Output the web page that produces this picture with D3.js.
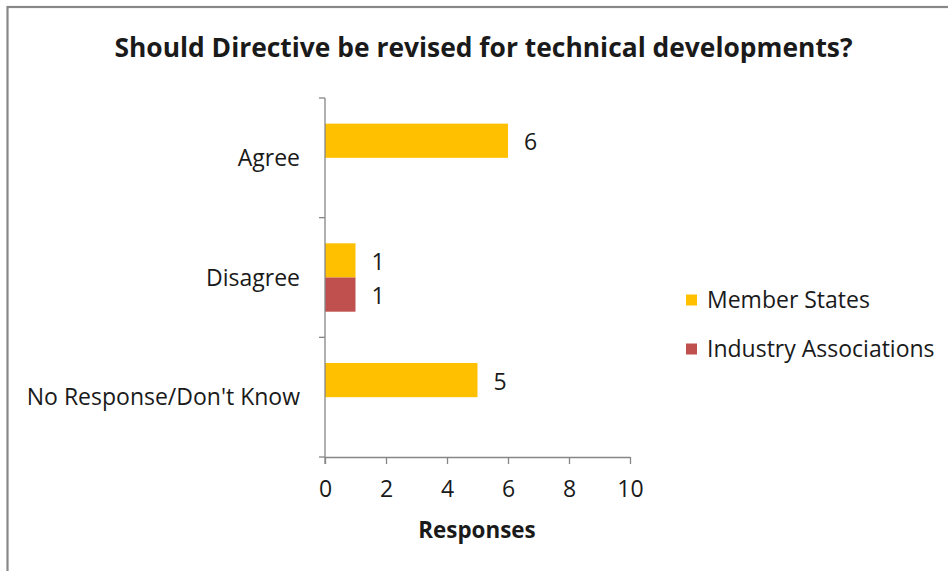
<!DOCTYPE html>
<html>
<head>
<meta charset="utf-8">
<script src="https://cdn.jsdelivr.net/npm/d3@7"></script>
<style>
  html, body { margin: 0; padding: 0; background: #fff; }
  svg { display: block; }
  text { font-family: "Open Sans", Lato, sans-serif; fill: #1a1a1a; }
</style>
</head>
<body>
<svg id="chart" width="948" height="571"></svg>
<script>
// Survey answers, one value per category for each respondent group
const categories = ["Agree", "Disagree", "No Response/Don't Know"];
const seriesNames = ["Member States", "Industry Associations"];
const memberStates = [6, 1, 5];
const industryAssociations = [null, 1, null];
const xTicks = [0, 2, 4, 6, 8, 10];
const seriesColors = ["#FFC000", "#C0504D"];
const titleText = "Should Directive be revised for technical developments?";
const xAxisTitle = "Responses";

const seriesValues = [memberStates, industryAssociations];
const rows = [];
categories.forEach((c, ci) => {
  seriesNames.forEach((s, si) => {
    const v = seriesValues[si][ci];
    if (v !== null && v !== undefined) rows.push({ category: c, series: s, value: v, color: seriesColors[si] });
  });
});

const svg = d3.select("#chart");

// outer chart frame
svg.append("rect")
  .attr("x", 7.5).attr("y", 7)
  .attr("width", 960).attr("height", 600)
  .attr("fill", "none").attr("stroke", "#888").attr("stroke-width", 2.2);

const plot = { left: 325, right: 630, top: 98, bottom: 457 };
const labelSize = 23;

const x = d3.scaleLinear().domain([0, 10]).range([plot.left, plot.right]);
const y = d3.scaleBand().domain(categories).range([plot.top, plot.bottom]).padding(0);
const bw = y.bandwidth();
const gap = bw * 1.5 / 3.5;
const ySub = d3.scaleBand().domain(seriesNames).range([gap / 2, bw - gap / 2]).padding(0);

// bars
svg.append("g").selectAll("rect").data(rows).join("rect")
  .attr("x", x(0))
  .attr("y", d => y(d.category) + ySub(d.series))
  .attr("width", d => x(d.value) - x(0))
  .attr("height", ySub.bandwidth())
  .attr("fill", d => d.color);

// value labels
svg.append("g").selectAll("text").data(rows).join("text")
  .attr("x", d => x(d.value) + 16)
  .attr("y", d => y(d.category) + ySub(d.series) + ySub.bandwidth() / 2 + 1.5)
  .attr("dy", "0.35em")
  .attr("font-size", labelSize)
  .text(d => d.value);

// x axis
const xAxis = svg.append("g")
  .attr("transform", `translate(0,${plot.bottom})`)
  .call(d3.axisBottom(x).tickValues(xTicks).tickSize(7).tickPadding(17).tickSizeOuter(0));
xAxis.select(".domain").attr("stroke", "#868686").attr("stroke-width", 1.3);
xAxis.selectAll(".tick line").attr("stroke", "#868686").attr("stroke-width", 1.3);
xAxis.selectAll(".tick text").attr("font-size", labelSize).attr("font-family", null).attr("fill", "#1a1a1a");

// y axis: ticks sit on category boundaries, labels at band centres
const yAxisG = svg.append("g").attr("transform", `translate(${plot.left},0)`);
yAxisG.append("line")
  .attr("x1", 0).attr("x2", 0)
  .attr("y1", plot.top).attr("y2", plot.bottom + 7)
  .attr("stroke", "#868686").attr("stroke-width", 1.3);
const boundaries = categories.map(c => y(c)).concat([plot.bottom]);
yAxisG.selectAll("line.tick").data(boundaries).join("line")
  .attr("class", "tick")
  .attr("x1", -6).attr("x2", 0)
  .attr("y1", d => d).attr("y2", d => d)
  .attr("stroke", "#868686").attr("stroke-width", 1.3);
yAxisG.selectAll("text").data(categories).join("text")
  .attr("x", -25)
  .attr("y", d => y(d) + bw / 2)
  .attr("dy", "0.35em")
  .attr("text-anchor", "end")
  .attr("font-size", labelSize)
  .text(d => d);

// title
svg.append("text")
  .attr("x", 483.5).attr("y", 48)
  .attr("dy", "0.35em")
  .attr("text-anchor", "middle")
  .attr("font-size", 26.4).attr("font-weight", "bold").attr("fill", "#000")
  .text(titleText);

// x axis title
svg.append("text")
  .attr("x", 477).attr("y", 530)
  .attr("dy", "0.35em")
  .attr("text-anchor", "middle")
  .attr("font-size", 22.4).attr("font-weight", "bold").attr("fill", "#000")
  .text(xAxisTitle);

// legend
const legend = svg.append("g").attr("transform", "translate(686,300)");
const li = legend.selectAll("g").data(seriesNames).join("g")
  .attr("transform", (d, i) => `translate(0,${i * 49})`);
li.append("rect").attr("x", 0).attr("y", -5.5).attr("width", 11).attr("height", 11)
  .attr("fill", (d, i) => seriesColors[i]);
li.append("text").attr("x", 21).attr("y", 0).attr("dy", "0.35em")
  .attr("font-size", labelSize).text(d => d);
</script>
</body>
</html>
